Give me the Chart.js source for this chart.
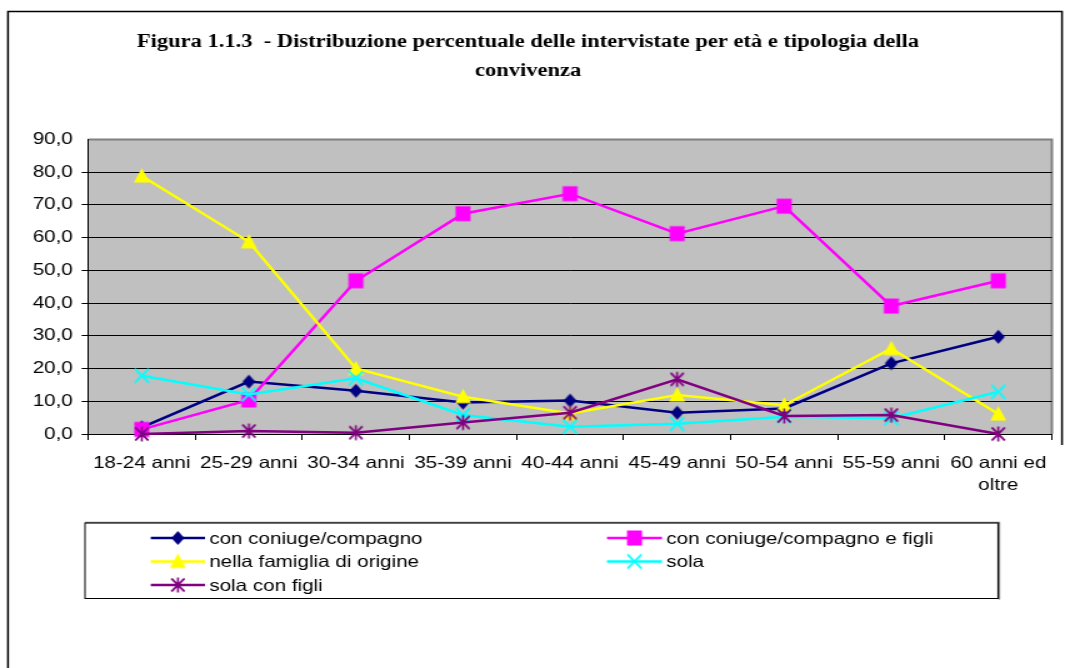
<!DOCTYPE html>
<html>
<head>
<meta charset="utf-8">
<script src="https://cdn.jsdelivr.net/npm/chart.js@4.4.0/dist/chart.umd.min.js"></script>
<style>
  html, body { margin: 0; padding: 0; background: #fff; overflow: hidden; }
  #wrap { width: 1065px; height: 668px; position: relative; overflow: hidden; }
  /* the original picture is stretched horizontally, so the canvas is too */
  #chart { position: absolute; left: 0; top: 0; transform-origin: 0 0; transform: scaleX(1.25); }
</style>
</head>
<body>
<div id="wrap"><canvas id="chart" width="852" height="668"></canvas></div>
<script>
const titleLines = [
  'Figura 1.1.3  - Distribuzione percentuale delle intervistate per età e tipologia della',
  'convivenza'
];

const ageGroups = ['18-24 anni', '25-29 anni', '30-34 anni', '35-39 anni', '40-44 anni',
                   '45-49 anni', '50-54 anni', '55-59 anni', ['60 anni ed', 'oltre']];

const seriesNames = ['con coniuge/compagno', 'con coniuge/compagno e figli',
                     'nella famiglia di origine', 'sola', 'sola con figli'];

const conConiuge      = [2.0, 16.0, 13.2, 9.6, 10.2, 6.5, 7.8, 21.6, 29.7];
const conConiugeFigli = [1.4, 10.4, 46.8, 67.3, 73.4, 61.2, 69.6, 39.1, 46.8];
const famigliaOrigine = [78.8, 58.7, 20.0, 11.4, 6.3, 11.9, 8.8, 26.1, 6.1];
const sola            = [17.8, 12.1, 17.0, 5.8, 2.2, 3.1, 5.3, 4.8, 12.9];
const solaConFigli    = [0.0, 0.9, 0.4, 3.5, 6.5, 16.7, 5.5, 5.8, 0.0];

const yTicks = { min: 0, max: 90, step: 10 };

const colors  = ['#000080', '#ff00ff', '#ffff00', '#00ffff', '#800080'];
const markers = ['diamond', 'square', 'triangle', 'x', 'star'];

const SX = 1.25;           // horizontal stretch applied by css
const FONT = '"Liberation Sans", Arial, sans-serif';

// marker images, pre-squeezed so they look square after the css stretch
function makeMarker(kind, color) {
  const size = 18;
  const c = document.createElement('canvas');
  c.width = Math.ceil(size / SX);
  c.height = size;
  const g = c.getContext('2d');
  g.translate(c.width / 2, size / 2);
  g.scale(1 / SX, 1);
  g.fillStyle = color;
  g.strokeStyle = color;
  g.lineWidth = 2;
  g.beginPath();
  if (kind === 'diamond') {
    g.moveTo(0, -7); g.lineTo(6.5, 0); g.lineTo(0, 7); g.lineTo(-6.5, 0); g.closePath(); g.fill();
  } else if (kind === 'square') {
    g.fillRect(-7.5, -7.5, 15, 15);
  } else if (kind === 'triangle') {
    g.moveTo(0, -8); g.lineTo(8, 6.5); g.lineTo(-8, 6.5); g.closePath(); g.fill();
  } else if (kind === 'x') {
    g.moveTo(-7, -7); g.lineTo(7, 7); g.moveTo(7, -7); g.lineTo(-7, 7); g.stroke();
  } else {
    g.moveTo(0, -7.5); g.lineTo(0, 7.5);
    g.moveTo(-6.5, -6.5); g.lineTo(6.5, 6.5);
    g.moveTo(6.5, -6.5); g.lineTo(-6.5, 6.5);
    g.stroke();
  }
  return c;
}

const markerImgs = markers.map((m, i) => makeMarker(m, colors[i]));
const values = [conConiuge, conConiugeFigli, famigliaOrigine, sola, solaConFigli];

const datasets = values.map((data, i) => ({
  label: seriesNames[i],
  data: data,
  borderColor: colors[i],
  backgroundColor: colors[i],
  borderWidth: 2.5,
  pointStyle: markerImgs[i],
  pointRadius: 8,
  pointHoverRadius: 8,
  tension: 0,
  clip: false,
  order: values.length - i
}));

// grey plot area, outer frame and the boxed legend
const decorations = {
  id: 'decorations',
  beforeDraw(chart) {
    const { ctx, chartArea: a } = chart;
    ctx.save();
    ctx.strokeStyle = '#000';
    ctx.lineWidth = 1.5;
    ctx.beginPath();
    ctx.moveTo(6.4, 668);
    ctx.lineTo(6.4, 11.5);
    ctx.lineTo(849.6, 11.5);
    ctx.lineTo(849.6, 445);
    ctx.stroke();

    ctx.fillStyle = '#c0c0c0';
    ctx.fillRect(a.left, a.top, a.right - a.left, a.bottom - a.top);
    ctx.strokeStyle = '#808080';
    ctx.lineWidth = 2;
    ctx.beginPath();
    ctx.moveTo(a.left, a.top);
    ctx.lineTo(a.right, a.top);
    ctx.lineTo(a.right, a.bottom);
    ctx.stroke();
    ctx.restore();
  },
  afterDraw(chart) {
    const ctx = chart.ctx;
    const box = { left: 68, top: 522, right: 798.4, bottom: 598.5 };
    ctx.save();
    ctx.strokeStyle = '#808080';
    ctx.lineWidth = 1.5;
    ctx.beginPath();
    ctx.moveTo(box.left, box.top + 0.5);
    ctx.lineTo(box.right + 1, box.top + 0.5);
    ctx.lineTo(box.right + 1, box.bottom + 1);
    ctx.stroke();
    ctx.strokeStyle = '#000';
    ctx.lineWidth = 1;
    ctx.strokeRect(box.left, box.top + 1, box.right - box.left, box.bottom - box.top - 1);

    const rowY = [538, 561.5, 585];
    const cols = [{ x1: 120.6, x2: 164, tx: 167.4 }, { x1: 485.6, x2: 529.6, tx: 533 }];
    ctx.font = '16.5px ' + FONT;
    ctx.textBaseline = 'middle';
    ctx.textAlign = 'left';
    chart.data.datasets.forEach((ds, i) => {
      const col = cols[i % 2];
      const y = rowY[Math.floor(i / 2)];
      ctx.strokeStyle = ds.borderColor;
      ctx.lineWidth = 2.5;
      ctx.beginPath();
      ctx.moveTo(col.x1, y);
      ctx.lineTo(col.x2, y);
      ctx.stroke();
      const img = markerImgs[i];
      ctx.drawImage(img, (col.x1 + col.x2) / 2 - img.width / 2, y - img.height / 2);
      ctx.fillStyle = '#000';
      ctx.fillText(ds.label, col.tx, y + 1);
    });
    ctx.restore();
  }
};

Chart.defaults.font.family = FONT;
Chart.defaults.color = '#000';

new Chart(document.getElementById('chart'), {
  type: 'line',
  data: { labels: ageGroups, datasets: datasets },
  plugins: [decorations],
  options: {
    responsive: false,
    animation: false,
    devicePixelRatio: 1,
    layout: { padding: { left: 0, right: 7.2, top: 0, bottom: 144 } },
    plugins: {
      legend: { display: false },
      tooltip: { enabled: false },
      title: {
        display: true,
        text: titleLines,
        color: '#000',
        font: { family: '"Liberation Serif", "Times New Roman", serif', size: 18, weight: 'bold', lineHeight: 1.65 },
        padding: { top: 27, bottom: 53 }
      }
    },
    scales: {
      x: {
        offset: true,
        afterFit: s => { s.height = 90; },
        grid: { display: true, drawOnChartArea: false, drawTicks: true, tickLength: 6, color: '#000', offset: true },
        border: { display: true, color: '#000', width: 1 },
        ticks: { autoSkip: false, maxRotation: 0, padding: 12, color: '#000',
                 font: { size: 16.5, lineHeight: 1.35 } }
      },
      y: {
        min: yTicks.min,
        max: yTicks.max,
        afterFit: s => { s.width = 70.6; },
        grid: {
          color: ctx => (ctx.tick && ctx.tick.value === yTicks.max ? 'rgba(0,0,0,0)' : '#000'),
          lineWidth: 1,
          tickLength: 5.3,
          drawTicks: true
        },
        border: { display: true, color: '#000', width: 1 },
        ticks: {
          stepSize: yTicks.step,
          padding: 7,
          color: '#000',
          font: { size: 16.5 },
          callback: v => v.toFixed(1).replace('.', ',')
        }
      }
    }
  }
});
</script>
</body>
</html>
